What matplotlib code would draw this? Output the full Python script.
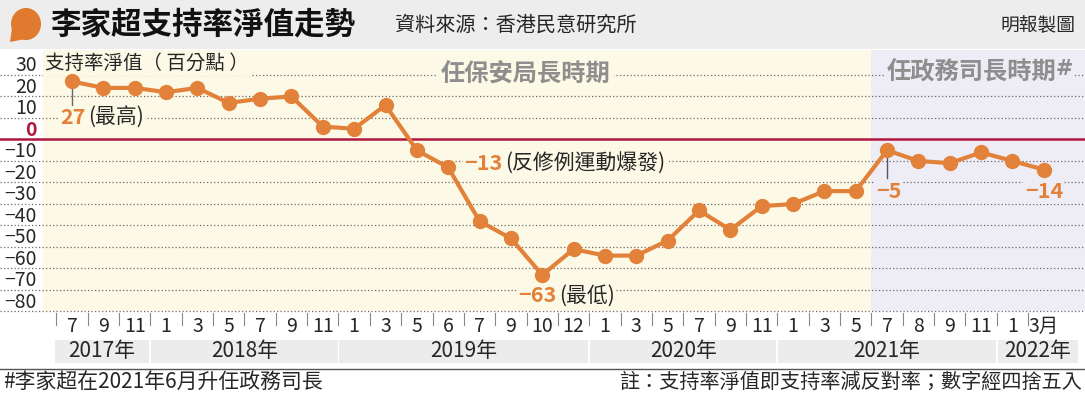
import matplotlib
matplotlib.use('Agg')
import matplotlib.pyplot as plt
from matplotlib.patches import Rectangle, Ellipse, Polygon
from matplotlib.lines import Line2D
from matplotlib.transforms import blended_transform_factory

plt.rcParams['font.family'] = ['Noto Sans CJK TC', 'DejaVu Sans']
plt.rcParams['axes.unicode_minus'] = True

# ---------------- data ----------------
months = ['7', '9', '11', '1', '3', '5', '7', '9', '11', '1', '3', '5', '6', '7', '9', '10', '12',
          '1', '3', '5', '7', '9', '11', '1', '3', '5', '7', '8', '9', '11', '1', '3月']
years = ['2017年', '2018年', '2019年', '2020年', '2021年', '2022年']
year_counts = [3, 6, 8, 6, 7, 2]
net_values = [27, 24, 24, 22, 24, 17, 19, 20, 6, 5, 16, -5, -13, -38, -46, -63, -51,
              -54, -54, -47, -33, -42, -31, -30, -24, -24, -5, -10, -11, -6, -10, -14]
y_ticks = [30, 20, 10, 0, -10, -20, -30, -40, -50, -60, -70, -80]
period1_label = '任保安局長時期'
period2_label = '任政務司長時期'
period_split = 26  # first month of the second period (Jul 2021)

title = '李家超支持率淨值走勢'
source = '資料來源：香港民意研究所'
credit = '明報製圖'
unit_label = '支持率淨值（ 百分點 ）'
foot_left = '#李家超在2021年6月升任政務司長'
foot_right = '註：支持率淨值即支持率減反對率；數字經四捨五入'

# ---------------- style ----------------
ORANGE = '#E2823A'
RED = '#B0173F'
CREAM = '#FDF9E7'
LAV = '#EEEDF6'
GRAY_TXT = '#8E8E8E'
DARK = '#262626'
BAND = '#ECECEC'

W, H = 1085, 395
fig = plt.figure(figsize=(W / 100, H / 100), dpi=100)
fig.patch.set_facecolor('white')


def fx(px):
    return px / W


def fy(py):
    return 1 - py / H


X0, DX = 72, 31.35
Y0, DY = 139.5, 2.15


def dx(px):
    return (px - X0) / DX


def dy(py):
    return (Y0 - py) / DY


ax_top, ax_bot = 50, 318
ax = fig.add_axes([0, fy(ax_bot), 1, (ax_bot - ax_top) / H])
ax.set_xlim(dx(0), dx(W))
ax.set_ylim(dy(ax_bot), dy(ax_top))
ax.axis('off')

# backgrounds
xs = list(range(len(net_values)))
split_x = period_split - 0.5
ax.add_patch(Rectangle((dx(43), dy(311)), split_x - dx(43), dy(ax_top) - dy(311),
                       facecolor=CREAM, edgecolor='none', zorder=0))
ax.add_patch(Rectangle((split_x, dy(311)), dx(W) - split_x, dy(ax_top) - dy(311),
                       facecolor=LAV, edgecolor='none', zorder=0))

# gridlines
for v in y_ticks:
    if v == 0:
        ax.axhline(0, color=RED, lw=1.8, zorder=3)
    else:
        ax.axhline(v, color='#6a6a6a', lw=0.9, ls=(0, (1, 1.8)), zorder=2)

# y labels
bt_y = blended_transform_factory(fig.transFigure, ax.transData)
for v in y_ticks:
    s = str(v).replace('-', '−')
    if v == 0:
        ax.text(fx(37), v + 4.4, s, transform=bt_y, ha='right', va='center',
                fontsize=14, color=RED, fontweight='bold')
    else:
        ax.text(fx(37), v + 4.4, s, transform=bt_y, ha='right', va='center',
                fontsize=14, color=DARK)

# line
ax.plot(xs, net_values, color=ORANGE, lw=3, marker='o', ms=10, zorder=5,
        solid_capstyle='round')

# x labels / ticks / year bands
bt_x = blended_transform_factory(ax.transData, fig.transFigure)
for i, m in enumerate(months):
    ax.text(i, fy(326), m, transform=bt_x, ha='center', va='center',
            fontsize=14, color=DARK, clip_on=False)
for i in range(len(months)):
    b = i - 0.5
    ax.add_line(Line2D([b, b], [fy(313), fy(325)], transform=bt_x, color='#888888',
                       lw=0.8, clip_on=False))

start = 0
for k, (yr, n) in enumerate(zip(years, year_counts)):
    left = start - 0.5 + (0.03 if k > 0 else 0.0)
    right = start + n - 0.5 - 0.03
    if k == 0:
        left = dx(55)
    if k == len(years) - 1:
        right = dx(1078)
    ax.add_patch(Rectangle((left, fy(363)), right - left, (363 - 340) / H, transform=bt_x,
                           facecolor=BAND, edgecolor='none', clip_on=False, zorder=1))
    ax.text((left + right) / 2, fy(351), yr, transform=bt_x, ha='center', va='center',
            fontsize=15, color=DARK, clip_on=False)
    start += n

# period labels
ax.text(dx(526), dy(75), period1_label, ha='center', va='center', fontsize=17.5,
        fontweight='bold', color=GRAY_TXT, zorder=4,
        bbox=dict(facecolor=CREAM, edgecolor='none', pad=2))
tp = ax.text(dx(972), dy(73), period2_label, ha='center', va='center', fontsize=17.5,
             fontweight='bold', color=GRAY_TXT, zorder=4,
             bbox=dict(facecolor=LAV, edgecolor='none', pad=2))
ax.annotate('#', xy=(1, 0.5), xycoords=tp, xytext=(-1, 3), textcoords='offset points',
            ha='left', va='center', fontsize=15, fontweight='bold', color=GRAY_TXT,
            zorder=4, family=['DejaVu Sans'],
            bbox=dict(facecolor=LAV, edgecolor='none', pad=0.5))

# unit label
ax.text(dx(45), dy(63), unit_label, ha='left', va='center', fontsize=14, color=DARK,
        zorder=4, bbox=dict(facecolor=CREAM, edgecolor='none', pad=1.5))


# annotations
def two_part(x, y, num, rest, bg, ha='left'):
    t = ax.text(x, y, num, ha=ha, va='center', fontsize=15.5, fontweight='bold',
                color=ORANGE, zorder=6, bbox=dict(facecolor=bg, edgecolor='none', pad=1))
    if rest:
        ax.annotate(rest, xy=(1, 0.5), xycoords=t, xytext=(2, 0),
                    textcoords='offset points', ha='left', va='center', fontsize=15,
                    color=DARK, zorder=6,
                    bbox=dict(facecolor=bg, edgecolor='none', pad=1))
    return t


i_max = net_values.index(max(net_values))
i_min = net_values.index(min(net_values))
i_jun19 = 12
i_last = len(net_values) - 1

ax.plot([i_max, i_max], [dy(89), dy(110)], color='#666666', lw=1, zorder=4)
two_part(dx(60), dy(118), str(net_values[i_max]), '(最高)', CREAM)
two_part(dx(464), dy(164), str(net_values[i_jun19]).replace('-', '−'), '(反修例運動爆發)', CREAM)
two_part(dx(518), dy(296), str(net_values[i_min]).replace('-', '−'), '(最低)', CREAM)

ax.plot([period_split, period_split], [dy(157), dy(178)], color='#555566', lw=1, zorder=4)
two_part(period_split + 0.05, dy(192), str(net_values[period_split]).replace('-', '−'), '', LAV,
         ha='center')
two_part(i_last, dy(192), str(net_values[i_last]).replace('-', '−'), '', LAV, ha='center')

# ---------------- header ----------------
fig.add_artist(Rectangle((0, fy(49)), 1, 49 / H, transform=fig.transFigure,
                         facecolor='#EDEDED', edgecolor='none', zorder=0))
fig.add_artist(Ellipse((fx(26), fy(24)), 30 / W, 32 / H, transform=fig.transFigure,
                       facecolor='#E07A2E', edgecolor='none', zorder=1))
fig.add_artist(Polygon([(fx(12), fy(28)), (fx(10), fy(42)), (fx(25), fy(39))],
                       closed=True, transform=fig.transFigure,
                       facecolor='#E07A2E', edgecolor='none', zorder=1))
fig.text(fx(50), fy(25), title, ha='left', va='center', fontsize=22, fontweight='bold',
         color='#111111')
fig.text(fx(395), fy(25), source, ha='left', va='center', fontsize=14.5, color=DARK)
fig.text(fx(1076), fy(25), credit, ha='right', va='center', fontsize=13.5, color=DARK)

# ---------------- footer ----------------
fig.add_artist(Line2D([0, 1], [fy(369), fy(369)], transform=fig.transFigure,
                      color='#555555', lw=1))
fig.text(fx(3), fy(382), foot_left, ha='left', va='center', fontsize=15, color=DARK)
fig.text(fx(1082), fy(382), foot_right, ha='right', va='center', fontsize=14.5, color=DARK)

fig.savefig('out.png', dpi=100, facecolor='white')
